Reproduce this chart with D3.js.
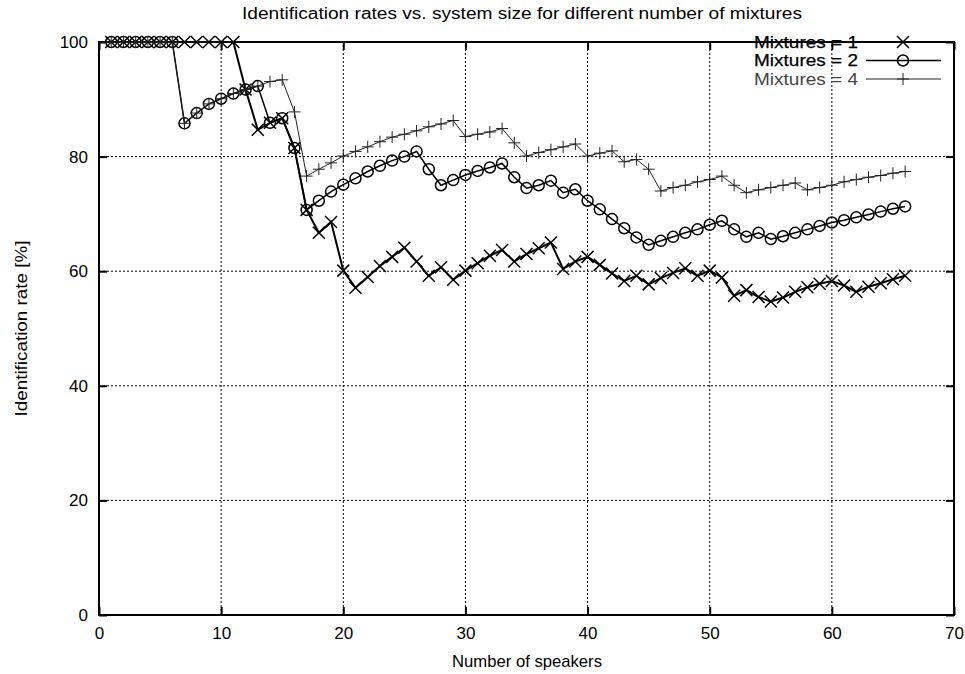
<!DOCTYPE html>
<html>
<head>
<meta charset="utf-8">
<script src="https://cdn.jsdelivr.net/npm/d3@7"></script>
<style>
  body { margin: 0; background: #fff; }
  text { font-family: "Liberation Sans", Arial, sans-serif; }
</style>
</head>
<body>
<div id="container"></div>
<script>
const speakers = d3.range(1, 67)

const mix1 = [
  100, 100, 100, 100, 100, 100, 100, 100, 100, 100,
  100, 91.7, 84.7, 85.9, 86.7, 81.5, 70.7, 66.7, 68.6, 60.1,
  57.1, 59.0, 60.9, 62.5, 64.1, 61.7, 59.2, 60.7, 58.5, 60.1,
  61.4, 62.7, 63.7, 61.7, 63.0, 64.0, 65.0, 60.4, 61.7, 62.5,
  61.1, 59.6, 58.3, 59.2, 57.7, 58.8, 59.7, 60.5, 59.2, 60.1,
  58.9, 55.7, 56.7, 55.5, 54.7, 55.4, 56.4, 57.2, 57.8, 58.3,
  57.5, 56.4, 57.3, 57.9, 58.6, 59.2
]

const mix2 = [
  100, 100, 100, 100, 100, 100, 85.8, 87.6, 89.2, 90.1,
  91.0, 91.7, 92.3, 85.9, 86.7, 81.5, 70.7, 72.3, 73.9, 75.1,
  76.2, 77.4, 78.4, 79.3, 80.0, 80.9, 77.8, 75.0, 75.9, 76.8,
  77.5, 78.1, 78.8, 76.4, 74.5, 75.0, 75.8, 73.7, 74.3, 72.3,
  70.8, 69.1, 67.5, 65.9, 64.6, 65.3, 66.0, 66.7, 67.3, 68.1,
  68.8, 67.3, 66.0, 66.7, 65.6, 66.1, 66.7, 67.3, 67.9, 68.5,
  68.9, 69.4, 69.9, 70.4, 70.9, 71.3
]

const mix4 = [
  100, 100, 100, 100, 100, 100, 85.8, 87.6, 89.2, 90.1,
  91.0, 91.7, 92.3, 93.1, 93.4, 87.8, 76.6, 77.8, 78.9, 80.1,
  80.9, 81.7, 82.6, 83.4, 83.9, 84.5, 85.2, 85.7, 86.3, 83.5,
  83.9, 84.3, 84.9, 82.4, 80.1, 80.7, 81.2, 81.7, 82.2, 80.1,
  80.6, 81.0, 79.1, 79.5, 77.8, 74.0, 74.6, 75.0, 75.6, 76.0,
  76.6, 75.0, 73.7, 74.2, 74.6, 75.0, 75.4, 74.2, 74.6, 75.0,
  75.6, 76.0, 76.4, 76.7, 77.1, 77.4
]

const xTicks = [0, 10, 20, 30, 40, 50, 60, 70]
const yTicks = [0, 20, 40, 60, 80, 100]

const seriesNames = ['Mixtures = 1', 'Mixtures = 2', 'Mixtures = 4']
const seriesValues = [mix1, mix2, mix4]

const width = 965
const height = 674
const margins = { top: 42, bottom: 59, left: 99, right: 11 }

const svg = d3.select('#container')
  .append('svg')
  .attr('width', width)
  .attr('height', height)
  .attr('viewBox', [0, 0, width, height])

const x = d3.scaleLinear()
  .domain([0, 70])
  .range([margins.left, width - margins.right])

const y = d3.scaleLinear()
  .domain([0, 100])
  .range([height - margins.bottom, margins.top])

// grid
svg.append('g')
  .selectAll('line')
  .data(xTicks.slice(1, -1))
  .join('line')
  .attr('x1', d => x(d)).attr('x2', d => x(d))
  .attr('y1', y(0)).attr('y2', y(100))
  .attr('stroke', '#000')
  .attr('stroke-width', 1)
  .attr('stroke-dasharray', '2,2')

svg.append('g')
  .selectAll('line')
  .data(yTicks.slice(1, -1))
  .join('line')
  .attr('x1', x(0)).attr('x2', x(70))
  .attr('y1', d => y(d)).attr('y2', d => y(d))
  .attr('stroke', '#000')
  .attr('stroke-width', 1)
  .attr('stroke-dasharray', '2,2')

// axes, ticks pointing inward
const xAxis = svg.append('g')
  .attr('transform', `translate(0,${ y(0) })`)
  .call(d3.axisBottom(x).tickValues(xTicks).tickSizeInner(-8).tickSizeOuter(0).tickPadding(10))
const xAxisTop = svg.append('g')
  .attr('transform', `translate(0,${ y(100) })`)
  .call(d3.axisTop(x).tickValues(xTicks).tickSizeInner(-8).tickSizeOuter(0).tickFormat(''))
const yAxis = svg.append('g')
  .attr('transform', `translate(${ x(0) },0)`)
  .call(d3.axisLeft(y).tickValues(yTicks).tickSizeInner(-8).tickSizeOuter(0).tickPadding(10))
const yAxisRight = svg.append('g')
  .attr('transform', `translate(${ x(70) },0)`)
  .call(d3.axisRight(y).tickValues(yTicks).tickSizeInner(-8).tickSizeOuter(0).tickFormat(''))

;[xAxis, xAxisTop, yAxis, yAxisRight].forEach(g => {
  g.select('.domain').remove()
  g.selectAll('line').attr('stroke', '#000').attr('stroke-width', 2)
  g.selectAll('text')
    .style('font-size', '17px')
    .style('fill', '#000')
    .attr('font-family', null)
})
xAxis.selectAll('text').attr('dy', '0.85em')
yAxis.selectAll('text').attr('dx', '-1')

// frame
svg.append('rect')
  .attr('x', x(0))
  .attr('y', y(100))
  .attr('width', x(70) - x(0))
  .attr('height', y(0) - y(100))
  .attr('fill', 'none')
  .attr('stroke', '#000')
  .attr('stroke-width', 2)

// series
const styles = [
  { width: 2, color: '#000', marker: 'x' },
  { width: 1.5, color: '#000', marker: 'o' },
  { width: 1, color: '#222', marker: '+' }
]

const line = d3.line()
  .x((d, i) => x(speakers[i]))
  .y(d => y(d))

function drawMarker(g, type, color, sw) {
  if (type === 'x') {
    g.append('path').attr('d', 'M-6,-6L6,6M-6,6L6,-6')
      .attr('stroke', color).attr('stroke-width', sw).attr('fill', 'none')
  } else if (type === 'o') {
    g.append('circle').attr('r', 5.5)
      .attr('stroke', color).attr('stroke-width', sw).attr('fill', 'none')
  } else {
    g.append('path').attr('d', 'M-6,0L6,0M0,-6L0,6')
      .attr('stroke', color).attr('stroke-width', sw).attr('fill', 'none')
  }
}

seriesValues.forEach((vals, k) => {
  const s = styles[k]
  svg.append('path')
    .datum(vals)
    .attr('d', line)
    .attr('fill', 'none')
    .attr('stroke', s.color)
    .attr('stroke-width', s.width)
  svg.append('g')
    .selectAll('g')
    .data(vals)
    .join('g')
    .attr('transform', (d, i) => `translate(${ x(speakers[i]) },${ y(d) })`)
    .each(function () { drawMarker(d3.select(this), s.marker, s.color, k === 2 ? 1 : 1.5) })
})

// legend
const legend = svg.append('g')
seriesNames.forEach((name, k) => {
  const s = styles[k]
  const ly = 42 + k * 18.5
  legend.append('text')
    .attr('x', 858)
    .attr('y', ly)
    .attr('dy', '0.35em')
    .attr('text-anchor', 'end')
    .attr('textLength', 104)
    .attr('lengthAdjust', 'spacingAndGlyphs')
    .style('font-size', '17px')
    .style('fill', k === 2 ? '#444' : '#000')
    .style('stroke', k === 2 ? 'none' : '#000')
    .style('stroke-width', 0.25)
    .text(name)
  legend.append('line')
    .attr('x1', 866).attr('x2', 941)
    .attr('y1', ly).attr('y2', ly)
    .attr('stroke', s.color)
    .attr('stroke-width', s.width)
  const m = legend.append('g').attr('transform', `translate(903,${ ly })`)
  drawMarker(m, s.marker, s.color, k === 2 ? 1 : 1.5)
})

// titles
svg.append('text')
  .attr('x', 522).attr('y', 19)
  .attr('text-anchor', 'middle')
  .attr('textLength', 560)
  .attr('lengthAdjust', 'spacingAndGlyphs')
  .style('font-size', '16px')
  .text('Identification rates vs. system size for different number of mixtures')

svg.append('text')
  .attr('x', 527).attr('y', 667)
  .attr('text-anchor', 'middle')
  .attr('textLength', 150)
  .attr('lengthAdjust', 'spacingAndGlyphs')
  .style('font-size', '17px')
  .text('Number of speakers')

svg.append('text')
  .attr('transform', `translate(27,${ (y(0) + y(100)) / 2 }) rotate(-90)`)
  .attr('text-anchor', 'middle')
  .attr('textLength', 176)
  .attr('lengthAdjust', 'spacingAndGlyphs')
  .style('font-size', '17px')
  .text('Identification rate [%]')
</script>
</body>
</html>
